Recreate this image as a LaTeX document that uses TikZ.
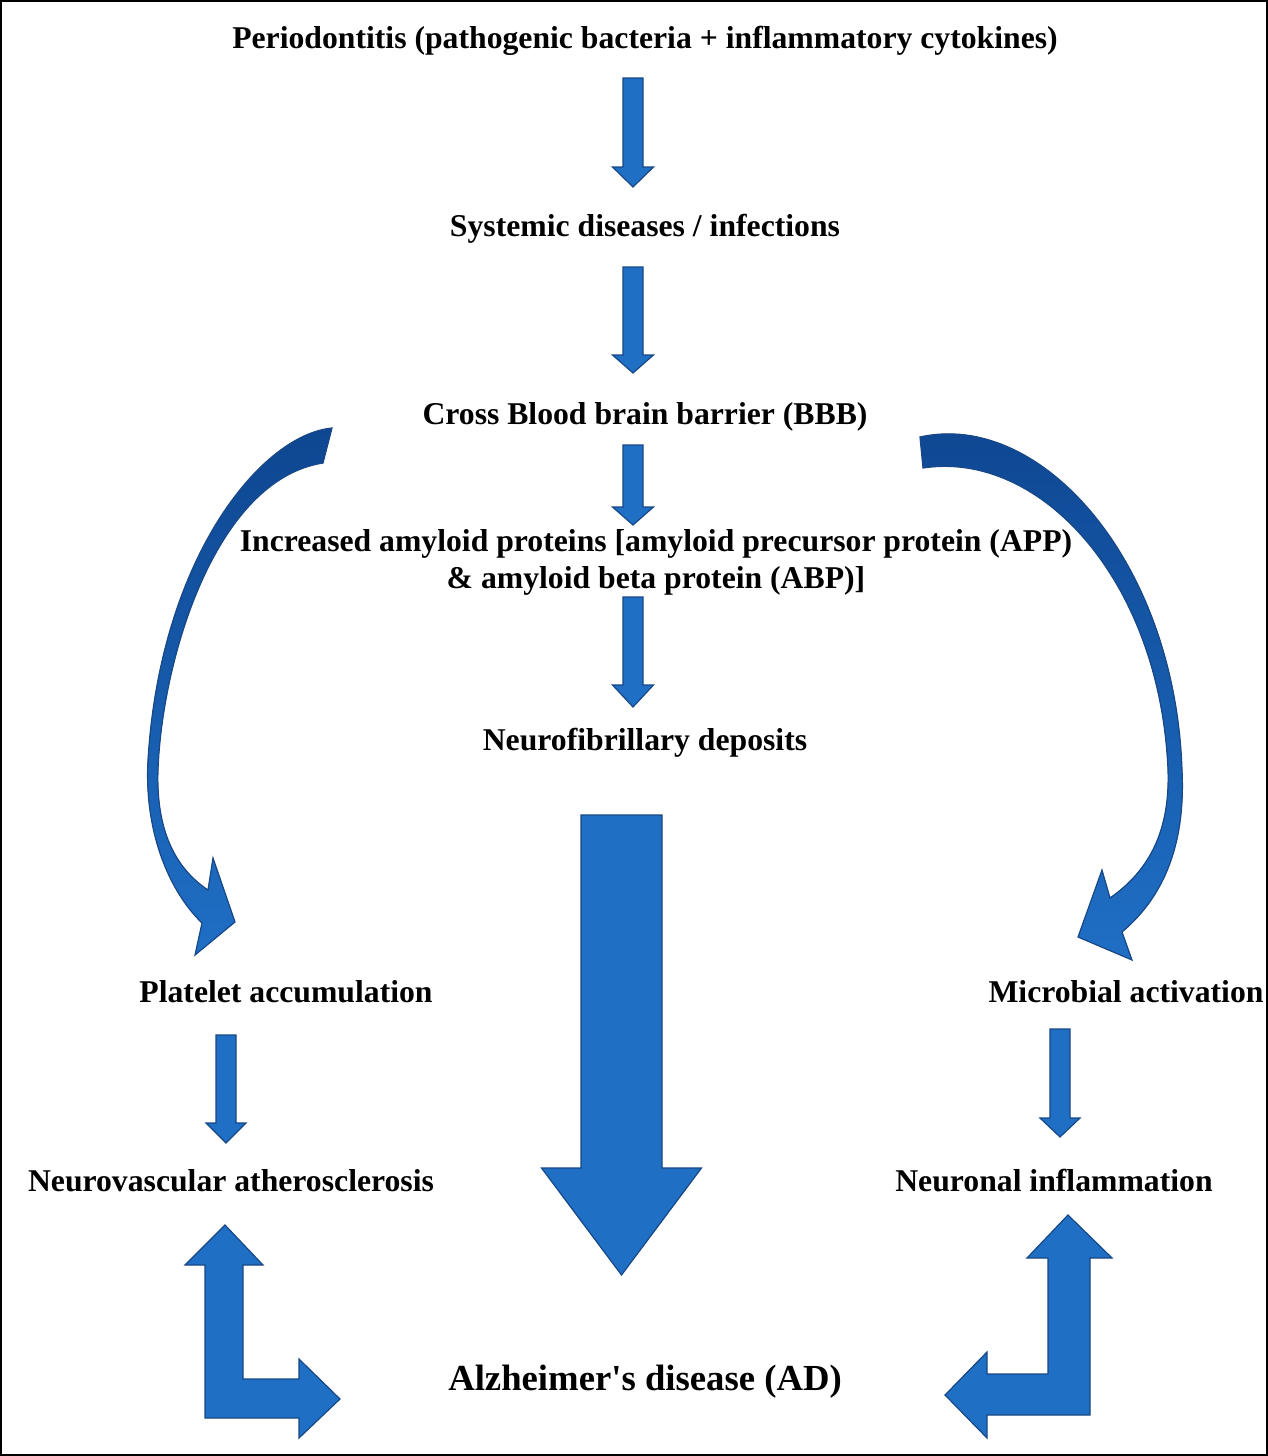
\documentclass[tikz,border=0pt]{standalone}
\usepackage{fontspec}
\setmainfont{Liberation Serif}
\definecolor{arrblue}{RGB}{31,111,197}
\definecolor{arredge}{RGB}{24,72,135}
\definecolor{arrdark}{RGB}{14,70,145}
\newcommand\blockdown[6]{%
  \filldraw[blockarr] (#1-#5,#2) -- (#1+#5,#2) -- (#1+#5,#3) -- (#1+#6,#3) -- (#1,#4) -- (#1-#6,#3) -- (#1-#5,#3) -- cycle;}
\begin{document}
\begin{tikzpicture}[x=1pt,y=-1pt,
  lbl/.style={font=\bfseries\fontsize{31.7}{37}\selectfont, inner sep=0pt, align=center},
  lblone/.style={lbl, text height=0.70em, text depth=0.22em},
  blockarr/.style={fill=arrblue, draw=arredge, line width=1.2pt, line join=miter},
  curvarr/.style={draw=arredge, line width=1.2pt, top color=arrdark, middle color=arrdark!75!arrblue, bottom color=arrblue}]
\useasboundingbox (0,0) rectangle (1268,1456);
\fill[white] (0,0) rectangle (1268,1456);
\draw[line width=2pt] (1,1) rectangle (1267,1455);

% labels
\node[lblone] (peri) at (645,46) {Periodontitis (pathogenic bacteria + inflammatory cytokines)};
\node[lblone] (sys) at (645,234) {Systemic diseases / infections};
\node[lblone] (bbb) at (645,422) {Cross Blood brain barrier (BBB)};
\node[lbl] (amy) at (656,562) {Increased amyloid proteins [amyloid precursor protein (APP)\\ \& amyloid beta protein (ABP)]};
\node[lblone] (neuro) at (645,748) {Neurofibrillary deposits};
\node[lblone] (plat) at (286,1000) {Platelet accumulation};
\node[lblone] (micro) at (1126,1000) {Microbial activation};
\node[lblone] (nva) at (231,1189) {Neurovascular atherosclerosis};
\node[lblone] (ninf) at (1054,1189) {Neuronal inflammation};
\node[font=\bfseries\fontsize{36.7}{42}\selectfont, inner sep=0pt, text height=0.70em, text depth=0.22em] (ad) at (645,1388) {Alzheimer\textquotesingle s disease (AD)};

% straight block arrows
\blockdown{633}{78}{167}{187}{10}{20.5}
\blockdown{633}{267}{355}{373}{10}{20.5}
\blockdown{633}{445}{507}{525}{10}{20.5}
\blockdown{633}{597}{685}{707}{10}{20.5}
\blockdown{226}{1035}{1123}{1143}{10}{20}
\blockdown{1060}{1029}{1118}{1137}{10}{20}
\blockdown{621.5}{815}{1168}{1275}{40.5}{80}

% curved arrow left
\filldraw[curvarr] (332,428) .. controls (260,435) and (160,560) .. (148,760)
  .. controls (144,830) and (168,890) .. (202,923)
  -- (195,955) -- (235,922) -- (213,858) -- (208,890)
  .. controls (175,868) and (156,830) .. (158,770)
  .. controls (162,660) and (215,480) .. (323,463) -- cycle;

% curved arrow right
\filldraw[curvarr] (920,437) .. controls (1040,410) and (1175,560) .. (1182,770)
  .. controls (1186,850) and (1160,900) .. (1122,932)
  -- (1132,960) -- (1078,937) -- (1102,870) -- (1110,898)
  .. controls (1150,870) and (1170,830) .. (1168,770)
  .. controls (1160,580) and (1040,450) .. (923,468) -- cycle;

% L-shaped arrows
\filldraw[blockarr] (225,1225) -- (263,1265) -- (243,1265) -- (243,1379) -- (299,1379) -- (299,1359) -- (340,1399) -- (299,1438) -- (299,1418) -- (205,1418) -- (205,1265) -- (185,1265) -- cycle;
\filldraw[blockarr] (1068,1215) -- (1112,1258) -- (1090,1258) -- (1090,1415) -- (987,1415) -- (987,1438) -- (945,1395) -- (987,1352) -- (987,1374) -- (1048,1374) -- (1048,1258) -- (1027,1258) -- cycle;
\end{tikzpicture}
\end{document}
